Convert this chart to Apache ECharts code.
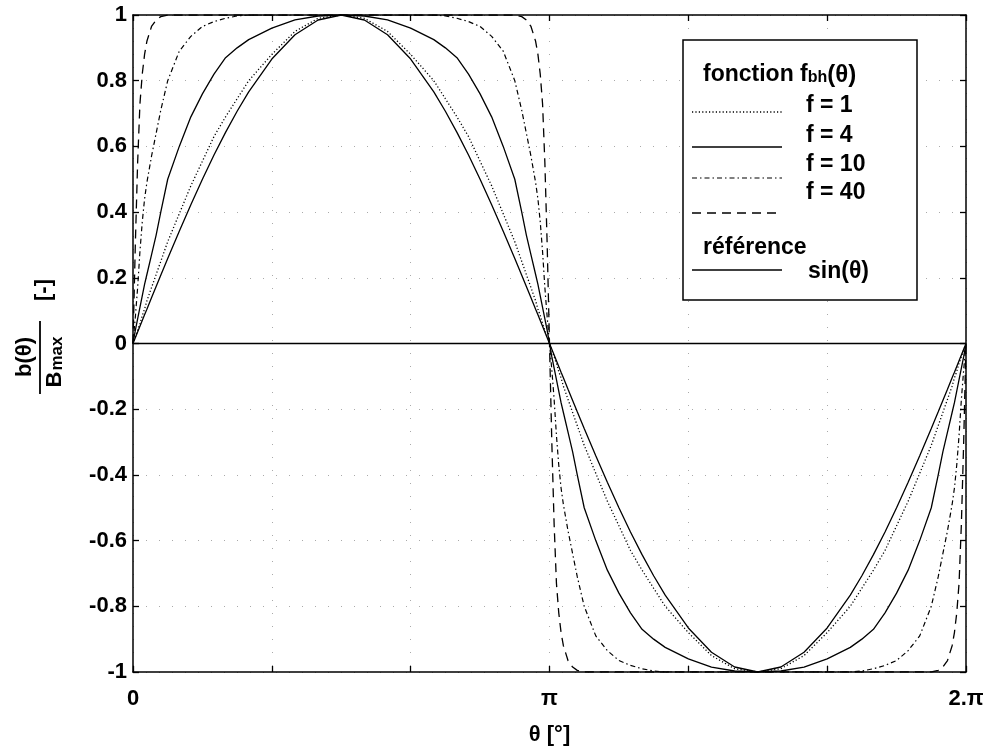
<!DOCTYPE html>
<html>
<head>
<meta charset="utf-8">
<script src="https://cdn.jsdelivr.net/npm/echarts@6/dist/echarts.min.js"></script>
<style>html,body{margin:0;padding:0;background:#fff}#c{width:990px;height:751px}</style>
</head>
<body>
<div id="c"></div>
<script>
// θ in degrees (0 .. 360 = 2π)
const theta = [0,1,2,3,4,5,6,8,10,12,15,20,25,30,35,40,45,50,60,70,80,90,
  100,110,120,130,135,140,145,150,155,160,165,168,170,172,174,175,176,177,178,179,180,
  181,182,183,184,185,186,188,190,192,195,200,205,210,215,220,225,230,240,250,260,270,
  280,290,300,310,315,320,325,330,335,340,345,348,350,352,354,355,356,357,358,359,360];

const refSin = [0,0.0175,0.0349,0.0523,0.0698,0.0872,0.1045,0.1392,0.1736,0.2079,0.2588,0.342,0.4226,0.5,0.5736,0.6428,0.7071,0.766,0.866,0.9397,0.9848,1,
  0.9848,0.9397,0.866,0.766,0.7071,0.6428,0.5736,0.5,0.4226,0.342,0.2588,0.2079,0.1736,0.1392,0.1045,0.0872,0.0698,0.0523,0.0349,0.0175,0,
  -0.0175,-0.0349,-0.0523,-0.0698,-0.0872,-0.1045,-0.1392,-0.1736,-0.2079,-0.2588,-0.342,-0.4226,-0.5,-0.5736,-0.6428,-0.7071,-0.766,-0.866,-0.9397,-0.9848,-1,
  -0.9848,-0.9397,-0.866,-0.766,-0.7071,-0.6428,-0.5736,-0.5,-0.4226,-0.342,-0.2588,-0.2079,-0.1736,-0.1392,-0.1045,-0.0872,-0.0698,-0.0523,-0.0349,-0.0175,0];

const fbh1 = [0,0.02,0.04,0.06,0.085,0.105,0.13,0.17,0.21,0.25,0.31,0.395,0.48,0.555,0.63,0.69,0.745,0.8,0.88,0.95,0.99,1,
  0.99,0.95,0.88,0.8,0.745,0.69,0.63,0.555,0.48,0.395,0.31,0.25,0.21,0.17,0.13,0.105,0.085,0.06,0.04,0.02,0,
  -0.02,-0.04,-0.06,-0.085,-0.105,-0.13,-0.17,-0.21,-0.25,-0.31,-0.395,-0.48,-0.555,-0.63,-0.69,-0.745,-0.8,-0.88,-0.95,-0.99,-1,
  -0.99,-0.95,-0.88,-0.8,-0.745,-0.69,-0.63,-0.555,-0.48,-0.395,-0.31,-0.25,-0.21,-0.17,-0.13,-0.105,-0.085,-0.06,-0.04,-0.02,0];

const fbh4 = [0,0.04,0.075,0.11,0.145,0.18,0.21,0.27,0.33,0.4,0.5,0.6,0.69,0.76,0.82,0.87,0.9,0.925,0.96,0.985,0.997,1,
  0.997,0.985,0.96,0.925,0.9,0.87,0.82,0.76,0.69,0.6,0.5,0.4,0.33,0.27,0.21,0.18,0.145,0.11,0.075,0.04,0,
  -0.04,-0.075,-0.11,-0.145,-0.18,-0.21,-0.27,-0.33,-0.4,-0.5,-0.6,-0.69,-0.76,-0.82,-0.87,-0.9,-0.925,-0.96,-0.985,-0.997,-1,
  -0.997,-0.985,-0.96,-0.925,-0.9,-0.87,-0.82,-0.76,-0.69,-0.6,-0.5,-0.4,-0.33,-0.27,-0.21,-0.18,-0.145,-0.11,-0.075,-0.04,0];

const fbh10 = [0,0.08,0.17,0.28,0.37,0.44,0.49,0.57,0.64,0.71,0.8,0.89,0.935,0.965,0.98,0.99,0.997,1,1,1,1,1,
  1,1,1,1,0.997,0.99,0.98,0.965,0.935,0.89,0.8,0.71,0.64,0.57,0.49,0.44,0.37,0.28,0.17,0.08,0,
  -0.08,-0.17,-0.28,-0.37,-0.44,-0.49,-0.57,-0.64,-0.71,-0.8,-0.89,-0.935,-0.965,-0.98,-0.99,-0.997,-1,-1,-1,-1,-1,
  -1,-1,-1,-1,-0.997,-0.99,-0.98,-0.965,-0.935,-0.89,-0.8,-0.71,-0.64,-0.57,-0.49,-0.44,-0.37,-0.28,-0.17,-0.08,0];

const fbh40 = [0,0.3,0.55,0.73,0.82,0.88,0.92,0.965,0.985,0.995,1,1,1,1,1,1,1,1,1,1,1,1,
  1,1,1,1,1,1,1,1,1,1,1,0.995,0.985,0.965,0.92,0.88,0.82,0.73,0.55,0.3,0,
  -0.3,-0.55,-0.73,-0.82,-0.88,-0.92,-0.965,-0.985,-0.995,-1,-1,-1,-1,-1,-1,-1,-1,-1,-1,-1,-1,
  -1,-1,-1,-1,-1,-1,-1,-1,-1,-1,-1,-0.995,-0.985,-0.965,-0.92,-0.88,-0.82,-0.73,-0.55,-0.3,0];

const xTickLabels = {0: '0', 180: 'π', 360: '2.π'};
const legendLabels = ['f = 1', 'f = 4', 'f = 10', 'f = 40'];

const FONT = '"Liberation Sans", Arial, Helvetica, sans-serif';
const BF = 'bold 22px ' + FONT;
const LF = 'bold 23px ' + FONT;
const pairs = ys => theta.map((t, i) => [t, ys[i]]);

function mk(name, ys, type, width) {
  return {
    name, type: 'line', data: pairs(ys), showSymbol: false, symbol: 'none',
    smooth: false, animation: false, z: 3,
    lineStyle: { color: '#000', width: width || 1.2, type: type }
  };
}

const series = [
  mk('f = 1', fbh1, [1.2, 2.2], 1.3),
  mk('f = 4', fbh4, 'solid', 1.3),
  mk('f = 10', fbh10, [5, 3, 1.5, 3], 1.2),
  mk('f = 40', fbh40, [9, 6], 1.3),
  Object.assign(mk('sin(θ)', refSin, 'solid', 1.3), {
    markLine: {
      silent: true, symbol: 'none', animation: false,
      label: { show: false },
      lineStyle: { color: '#000', type: 'solid', width: 1.3 },
      data: [{ yAxis: 0 }]
    }
  })
];

const gridLine = { show: true, lineStyle: { color: '#aaaaaa', width: 1, type: [1, 12] } };
const tick = { show: true, inside: true, length: 6, lineStyle: { color: '#000', width: 1.3 } };
const axLine = { show: true, onZero: false, lineStyle: { color: '#000', width: 1.5 } };

const LX = 692, LX2 = 782, TX = 806;
const txt = (x, y, s, font) => ({ type: 'text', x, y, z: 11,
  style: { text: s, font: font || LF, fill: '#000', verticalAlign: 'middle' } });
const lline = (y, dash, w) => ({ type: 'line', z: 11, shape: { x1: LX, y1: y, x2: LX2, y2: y },
  style: { stroke: '#000', lineWidth: w || 1.3, lineDash: dash || null } });

const graphic = [
  // y axis name: b(θ) / B_max  [-]
  { type: 'text', x: 25, y: 357, rotation: Math.PI / 2,
    style: { text: 'b(θ)', font: BF, fill: '#000', align: 'center', verticalAlign: 'middle' } },
  { type: 'line', shape: { x1: 40, y1: 321, x2: 40, y2: 394 }, style: { stroke: '#000', lineWidth: 1.8 } },
  { type: 'text', x: 55, y: 362, rotation: Math.PI / 2,
    style: { text: '{b|B}{s|max}', align: 'center', verticalAlign: 'middle',
      rich: { b: { font: BF, fill: '#000' }, s: { font: 'bold 17px ' + FONT, fill: '#000', padding: [4, 0, 0, 1] } } } },
  { type: 'text', x: 44, y: 290, rotation: Math.PI / 2,
    style: { text: '[-]', font: BF, fill: '#000', align: 'center', verticalAlign: 'middle' } },

  // legend box
  { type: 'rect', shape: { x: 683, y: 40, width: 234, height: 260 }, z: 10,
    style: { fill: '#fff', stroke: '#000', lineWidth: 1.5 } },
  { type: 'text', x: 703, y: 75, z: 11,
    style: { text: '{a|fonction f}{s|bh}{t|(θ)}', verticalAlign: 'middle',
      rich: { a: { font: LF, fill: '#000' }, t: { font: 'bold 24px ' + FONT, fill: '#000' },
        s: { font: 'bold 16px ' + FONT, fill: '#000', padding: [5, 0, 0, 0] } } } },
  lline(112, [1.2, 2.2]),
  lline(147),
  lline(178, [5, 3, 1.5, 3], 1.2),
  lline(213, [9, 6]),
  txt(TX, 106, legendLabels[0]),
  txt(TX, 136, legendLabels[1]),
  txt(TX, 165, legendLabels[2]),
  txt(TX, 193, legendLabels[3]),
  txt(703, 248, 'référence'),
  lline(270),
  txt(808, 272, 'sin(θ)')
];

const chart = echarts.init(document.getElementById('c'), null, { renderer: 'canvas' });
chart.setOption({
  animation: false,
  backgroundColor: '#fff',
  textStyle: { fontFamily: FONT },
  grid: { left: 133, right: 24, top: 15, bottom: 79, containLabel: false },
  xAxis: [{
    type: 'value', min: 0, max: 360, interval: 60, position: 'bottom',
    name: 'θ [°]', nameLocation: 'middle', nameGap: 52,
    nameTextStyle: { color: '#000', fontSize: 22, fontWeight: 'bold', fontFamily: FONT },
    axisLine: axLine, axisTick: tick, splitLine: gridLine,
    axisLabel: { color: '#000', fontSize: 22, fontWeight: 'bold', fontFamily: FONT, margin: 16,
      formatter: v => xTickLabels[Math.round(v)] || '' }
  }, {
    type: 'value', min: 0, max: 360, interval: 60, position: 'top',
    axisLine: axLine, axisTick: tick, splitLine: { show: false }, axisLabel: { show: false }
  }],
  yAxis: [{
    type: 'value', min: -1, max: 1, interval: 0.2, position: 'left',
    axisLine: axLine, axisTick: tick, splitLine: gridLine,
    axisLabel: { color: '#000', fontSize: 22, fontWeight: 'bold', fontFamily: FONT, margin: 6,
      formatter: v => String(parseFloat(v.toFixed(1))) }
  }, {
    type: 'value', min: -1, max: 1, interval: 0.2, position: 'right',
    axisLine: axLine, axisTick: tick, splitLine: { show: false }, axisLabel: { show: false }
  }],
  series: series,
  graphic: graphic
});
</script>
</body>
</html>
